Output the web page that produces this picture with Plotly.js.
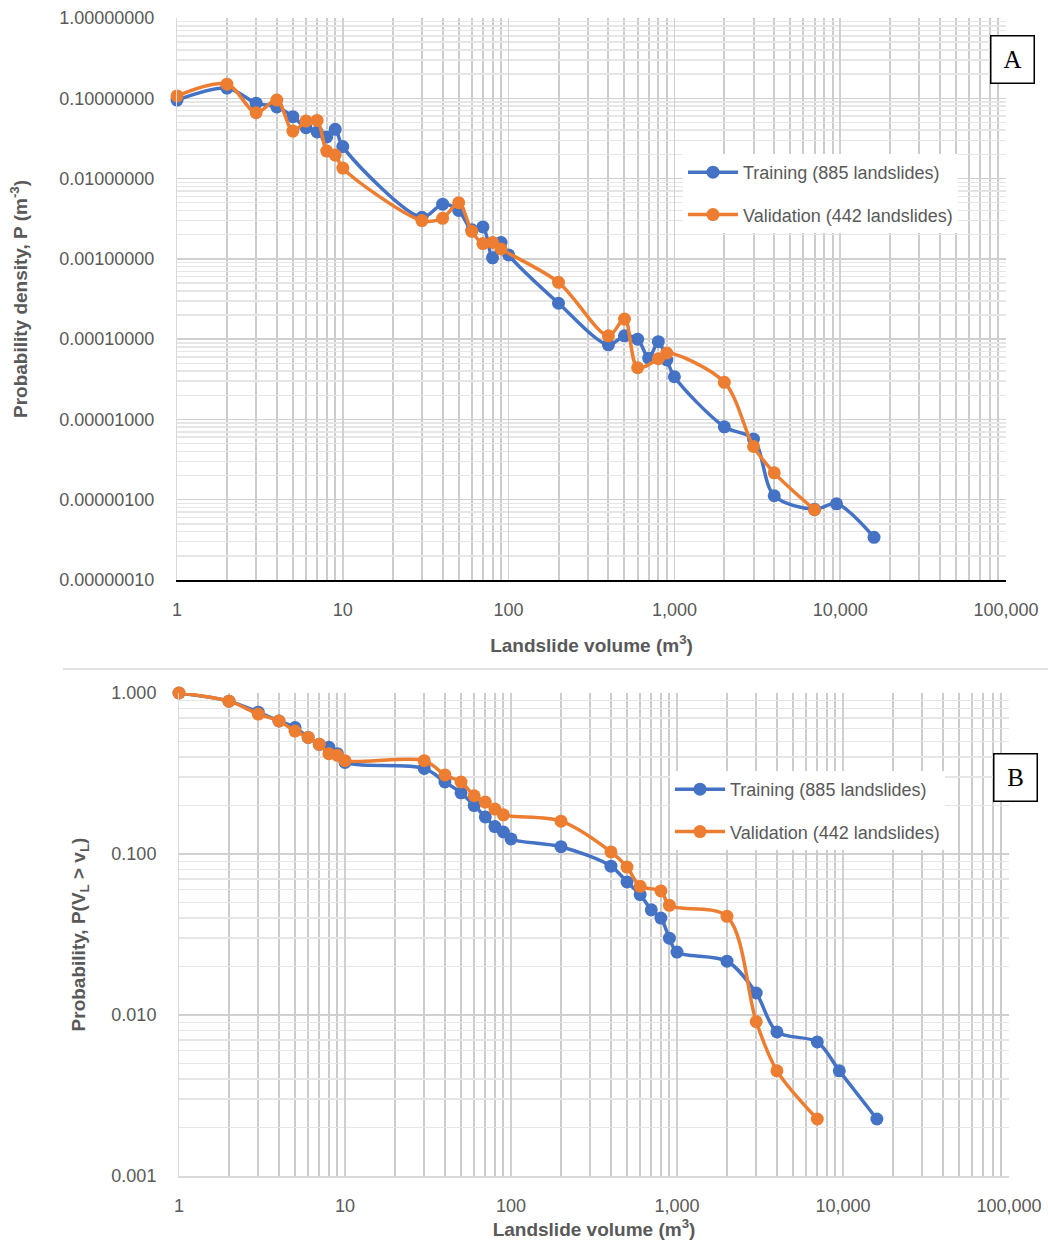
<!DOCTYPE html>
<html>
<head>
<meta charset="utf-8">
<script src="https://cdn.plot.ly/plotly-3.0.1.min.js"></script>
<style>
html,body{margin:0;padding:0;background:#fff;}
#chart{width:1048px;height:1242px;}
</style>
</head>
<body>
<div id="chart"></div>
<script>
// ---- Data ----
const trainVol = [1,2,3,4,5,6,7,8,9,10,30,40,50,60,70,80,90,100,200,400,500,600,700,800,900,1000,2000,3000,4000,7000,9500,16000];
const validVol = [1,2,3,4,5,6,7,8,9,10,30,40,50,60,70,80,90,200,400,500,600,800,900,2000,3000,4000,7000];

// Panel A: probability density
const trainDensity = [0.095,0.134,0.087,0.078,0.059,0.043,0.038,0.033,0.041,0.025,
  0.0033,0.0048,0.0040,0.0023,0.0025,0.00103,0.0016,0.00112,0.00028,
  8.5e-5,1.1e-4,1.0e-4,5.8e-5,9.3e-5,5.5e-5,3.4e-5,8.1e-6,5.7e-6,1.12e-6,7.6e-7,8.9e-7,3.4e-7];
const validDensity = [0.107,0.15,0.066,0.095,0.039,0.052,0.053,0.022,0.0196,0.0135,
  0.0030,0.0032,0.0050,0.0022,0.00155,0.0016,0.00133,0.00051,
  1.1e-4,1.78e-4,4.4e-5,5.7e-5,6.7e-5,2.9e-5,4.6e-6,2.16e-6,7.5e-7];

// Panel B: exceedance probability
const trainExceed = [1.0,0.89,0.76,0.67,0.61,0.53,0.48,0.46,0.42,0.37,
  0.34,0.28,0.24,0.20,0.17,0.148,0.137,0.124,0.111,
  0.084,0.067,0.056,0.045,0.040,0.030,0.0246,0.0216,0.0137,0.00785,0.0068,0.0045,0.00226];
const validExceed = [1.0,0.89,0.74,0.67,0.58,0.53,0.48,0.42,0.41,0.38,
  0.38,0.31,0.28,0.23,0.21,0.19,0.175,0.16,
  0.103,0.083,0.063,0.059,0.048,0.041,0.0091,0.0045,0.00226];

const trainName = "Training (885 landslides)";
const validName = "Validation (442 landslides)";

const BLUE = "#4472C4", ORANGE = "#ED7D31";
const TXT = "#595959";
const FONT = "Liberation Sans, Arial, sans-serif";

function series(x, y, name, color, xa, ya, legend, group) {
  return {
    x: x, y: y, name: name, type: "scatter", mode: "lines+markers",
    xaxis: xa, yaxis: ya, showlegend: true, legend: legend, legendgroup: group,
    line: {color: color, width: 3.5, shape: "spline", smoothing: 0.9},
    marker: {color: color, size: 13},
    cliponaxis: false
  };
}

const data = [
  series(trainVol, trainDensity, trainName, BLUE, "x", "y", "legend", "a1"),
  series(validVol, validDensity, validName, ORANGE, "x", "y", "legend", "a2"),
  series(trainVol, trainExceed, trainName, BLUE, "x2", "y2", "legend2", "b1"),
  series(validVol, validExceed, validName, ORANGE, "x2", "y2", "legend2", "b2")
];

const W = 1048, H = 1242;
const majorGrid = "#d0d0d0", minorGrid = "#e6e6e6";

function xAxis(domain, anchor, title, titleStandoff, lineColor) {
  return {
    type: "log", range: [0, 5], domain: domain, anchor: anchor,
    dtick: 1, tickformat: ",", ticks: "",
    tickfont: {family: FONT, size: 18, color: TXT},
    ticklabelstandoff: 12,
    showgrid: true, gridcolor: majorGrid, gridwidth: 1.5,
    minor: {dtick: "D1", showgrid: true, gridcolor: "#cccccc", gridwidth: 2},
    showline: true, linecolor: lineColor, linewidth: 2,
    zeroline: false,
    title: {text: title, font: {family: FONT, size: 19, color: TXT, weight: "bold"}, standoff: titleStandoff}
  };
}

function yAxis(domain, anchor, range, fmt, title, standoff) {
  return {
    type: "log", range: range, domain: domain, anchor: anchor,
    dtick: 1, tickformat: fmt, ticks: "",
    tickfont: {family: FONT, size: 18, color: TXT},
    showgrid: true, gridcolor: majorGrid, gridwidth: 1.5,
    minor: {dtick: "D1", showgrid: true, gridcolor: minorGrid, gridwidth: 1.5},
    showline: true, linecolor: "#d9d9d9", linewidth: 1,
    zeroline: false, ticklabelstandoff: 18,
    title: {text: title, font: {family: FONT, size: 19, color: TXT, weight: "bold"}, standoff: standoff}
  };
}

const legendFont = {family: FONT, size: 18, color: TXT};

const layout = {
  width: W, height: H,
  margin: {l: 0, r: 0, t: 0, b: 0},
  paper_bgcolor: "#fff", plot_bgcolor: "#fff",
  font: {family: FONT, color: TXT},
  xaxis: xAxis([177/W, 1006/W], "y", "Landslide volume (m<sup>3</sup>)", 20, "#000"),
  yaxis: yAxis([1-580/H, 1-18/H], "x", [-7, 0], ".8f", "Probability density, P (m<sup>-3</sup>)", 26),
  xaxis2: xAxis([179/W, 1009/W], "y2", "Landslide volume (m<sup>3</sup>)", 4, "#d9d9d9"),
  yaxis2: yAxis([1-1176/H, 1-693/H], "x2", [-3, 0], ".3f", "Probability, P(V<sub>L</sub> > v<sub>L</sub>)", 20),
  legend: {
    x: 683/W, y: 1-154/H, xanchor: "left", yanchor: "top",
    bgcolor: "#fff", borderwidth: 0,
    font: legendFont, tracegroupgap: 16, itemwidth: 50
  },
  legend2: {
    x: 670/W, y: 1-771/H, xanchor: "left", yanchor: "top",
    bgcolor: "#fff", borderwidth: 0,
    font: legendFont, tracegroupgap: 16, itemwidth: 50
  },
  shapes: [
    {type: "line", xref: "paper", yref: "paper", x0: 63/W, x1: 1, y0: 1-669/H, y1: 1-669/H,
     line: {color: "#d9d9d9", width: 1.5}}
  ],
  annotations: [
    {xref: "paper", yref: "paper", x: 1012/W, y: 1-60/H, text: "A", showarrow: false,
     font: {family: "Liberation Serif, Times New Roman, serif", size: 25, color: "#000"},
     bordercolor: "#000", borderwidth: 1.5, borderpad: 7, bgcolor: "#fff",
     width: 28, height: 32, xanchor: "center", yanchor: "middle"},
    {xref: "paper", yref: "paper", x: 1015/W, y: 1-777/H, text: "B", showarrow: false,
     font: {family: "Liberation Serif, Times New Roman, serif", size: 25, color: "#000"},
     bordercolor: "#000", borderwidth: 1.5, borderpad: 7, bgcolor: "#fff",
     width: 28, height: 32, xanchor: "center", yanchor: "middle"}
  ]
};

Plotly.newPlot("chart", data, layout, {displayModeBar: false, staticPlot: true});
</script>
</body>
</html>
